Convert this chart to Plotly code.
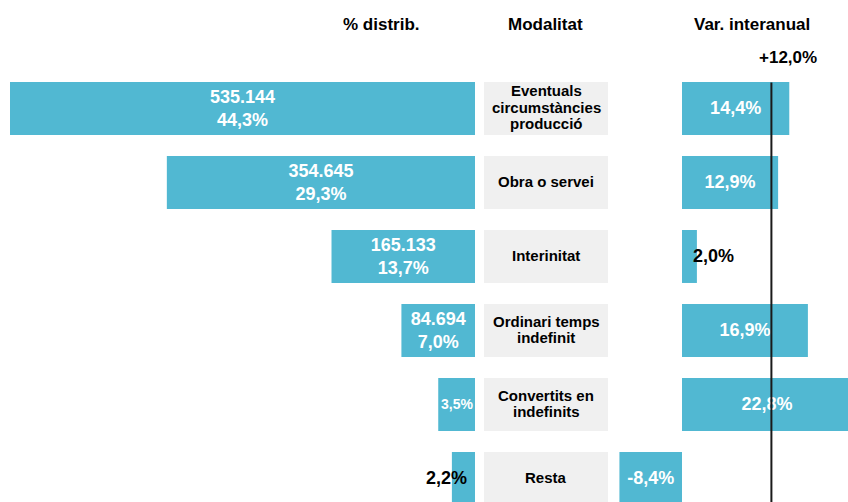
import plotly.graph_objects as go

# ---- data ----
categories = ["Eventuals<br>circumstàncies<br>producció", "Obra o servei", "Interinitat",
              "Ordinari temps<br>indefinit", "Convertits en<br>indefinits", "Resta"]
contracts = [535144, 354645, 165133, 84694, 42300, 26600]
distrib_pct = [44.3, 29.3, 13.7, 7.0, 3.5, 2.2]
var_interanual = [14.4, 12.9, 2.0, 16.9, 22.8, -8.4]
total_var = 12.0
label_mode_left = ["full", "full", "full", "full", "small", "outside"]
label_mode_right = ["in", "in", "outside", "in", "in", "in"]

W, H = 848, 502
BAR = "#51b8d2"
GREY = "#f0f0f0"
FONT = "Arial, Liberation Sans, sans-serif"


def fmt_int(v):
    return f"{v:,}".replace(",", ".")


def fmt_pct(v, sign=False):
    s = f"{v:+.1f}" if sign else f"{v:.1f}"
    return s.replace(".", ",") + "%"


ys = list(range(len(categories)))

left_text = [f"{fmt_int(c)}<br>{fmt_pct(p)}" if m == "full" else ""
             for c, p, m in zip(contracts, distrib_pct, label_mode_left)]
right_text = [fmt_pct(v) if m == "in" else "" for v, m in zip(var_interanual, label_mode_right)]

fig = go.Figure()

fig.add_trace(go.Bar(
    x=contracts, y=ys, orientation="h", marker=dict(color=BAR, line=dict(width=0)),
    width=0.716, text=left_text, textposition="inside", insidetextanchor="middle",
    textangle=0, textfont=dict(family=FONT, size=18, color="white", weight="bold"),
    xaxis="x", yaxis="y", hoverinfo="skip", showlegend=False))

fig.add_trace(go.Bar(
    x=[1] * len(categories), y=ys, orientation="h", marker=dict(color=GREY, line=dict(width=0)),
    width=0.716, xaxis="x2", yaxis="y2", hoverinfo="skip", showlegend=False))

fig.add_trace(go.Bar(
    x=var_interanual, y=ys, orientation="h", marker=dict(color=BAR, line=dict(width=0)),
    width=0.716, text=right_text, textposition="inside", insidetextanchor="middle",
    textangle=0, textfont=dict(family=FONT, size=18, color="white", weight="bold"),
    xaxis="x3", yaxis="y3", hoverinfo="skip", showlegend=False))

px_per_unit_left = 465 / contracts[0]
left_range_max = 475 / px_per_unit_left
px_per_pct = 7.45
right_lo = -(682 - 612) / px_per_pct
right_hi = (848 - 682) / px_per_pct

yr = [5.318, -0.385]
axis_common = dict(showgrid=False, zeroline=False, showticklabels=False, showline=False, ticks="")

annotations = []
LINE_H = 16.5
for i, cat in enumerate(categories):
    lines = cat.split("<br>")
    n = len(lines)
    for k, ln in enumerate(lines):
        annotations.append(dict(x=0.5, y=i, xref="x2", yref="y2", text=ln, showarrow=False,
                                xanchor="center", yanchor="middle",
                                yshift=((n - 1) / 2 - k) * LINE_H + 1,
                                font=dict(family=FONT, size=15, color="black", weight="bold")))

for i, (c, p, m) in enumerate(zip(contracts, distrib_pct, label_mode_left)):
    if m == "outside":
        annotations.append(dict(x=c, y=i, xref="x", yref="y", text=fmt_pct(p), showarrow=False,
                                xanchor="center", xshift=-5, yanchor="middle",
                                font=dict(family=FONT, size=18, color="black", weight="bold")))
    elif m == "small":
        annotations.append(dict(x=c / 2, y=i, xref="x", yref="y", text=fmt_pct(p), showarrow=False,
                                xanchor="center", yanchor="middle",
                                font=dict(family=FONT, size=14, color="white", weight="bold")))
for i, (v, m) in enumerate(zip(var_interanual, label_mode_right)):
    if m == "outside":
        annotations.append(dict(x=v, y=i, xref="x3", yref="y3", text=fmt_pct(v), showarrow=False,
                                xanchor="left", xshift=-6, yanchor="middle",
                                font=dict(family=FONT, size=18, color="black", weight="bold")))

hdr = dict(family=FONT, size=17, color="black", weight="bold")
annotations += [
    dict(x=381 / W, y=1 - 25 / H, xref="paper", yref="paper", text="% distrib.", showarrow=False,
         xanchor="center", yanchor="middle", font=hdr),
    dict(x=545 / W, y=1 - 25 / H, xref="paper", yref="paper", text="Modalitat", showarrow=False,
         xanchor="center", yanchor="middle", font=hdr),
    dict(x=752 / W, y=1 - 25 / H, xref="paper", yref="paper", text="Var. interanual", showarrow=False,
         xanchor="center", yanchor="middle", font=hdr),
    dict(x=total_var, y=1 - 57 / H, xref="x3", yref="paper", text=fmt_pct(total_var, sign=True),
         showarrow=False, xanchor="center", xshift=17, yanchor="middle", font=hdr),
]

fig.update_layout(
    width=W, height=H, margin=dict(l=0, r=0, t=0, b=0),
    paper_bgcolor="white", plot_bgcolor="rgba(0,0,0,0)",
    barmode="overlay", showlegend=False, hovermode=False,
    xaxis=dict(domain=[0, 475 / W], range=[left_range_max, 0], anchor="y", **axis_common),
    yaxis=dict(domain=[0, 1 - 80 / H], range=yr, anchor="x", **axis_common),
    xaxis2=dict(domain=[484 / W, 608 / W], range=[0, 1], anchor="y2", **axis_common),
    yaxis2=dict(domain=[0, 1 - 80 / H], range=yr, anchor="x2", **axis_common),
    xaxis3=dict(domain=[612 / W, 1], range=[right_lo, right_hi], anchor="y3", **axis_common),
    yaxis3=dict(domain=[0, 1 - 80 / H], range=yr, anchor="x3", **axis_common),
    annotations=annotations,
    shapes=[dict(type="line", xref="x3", yref="y3", x0=total_var, x1=total_var,
                 y0=-0.35, y1=yr[0], line=dict(color="#1a1a1a", width=2), layer="above")],
)

fig.write_html("out.html", config={"displayModeBar": False, "staticPlot": True},
               post_script="document.body.style.margin='0';document.body.style.overflow='hidden';")
